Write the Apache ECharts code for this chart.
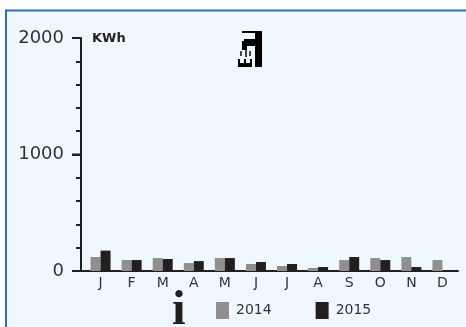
<!DOCTYPE html>
<html><head><meta charset="utf-8">
<style>html,body{margin:0;padding:0;background:#fff;overflow:hidden}#c{width:466px;height:327px}</style>
<script src="https://cdn.jsdelivr.net/npm/echarts@6/dist/echarts.min.js"></script>
</head><body><div id="c"></div>
<script>
const months = ['J','F','M','A','M','J','J','A','S','O','N','D'];
const values2014 = [120,94,111,68,111,60,43,26,94,111,120,94];
const values2015 = [175,94,103,85,111,77,60,34,120,94,34,null];
const yTicks = {min:0,max:2000,interval:1000};
const majorTicks = [0,1000,2000];
const ink = '#231f20', grey = '#8f8f8f', txt = '#333333';
const font = '"DejaVu Sans", Verdana, sans-serif';
const chart = echarts.init(document.getElementById('c'),null,{renderer:'canvas'});
const staticGraphics = [
    {type:'rect',silent:true,z:-1,shape:{x:6,y:10.5,width:470,height:330},
      style:{fill:'#f0f8ff',stroke:'#2f6fb8',lineWidth:2}},
    {type:'rect',shape:{x:80,y:270,width:6,height:2},style:{fill:ink}},
    {type:'text',x:92,y:32,style:{text:'KWh',font:'bold 13px '+font,fill:ink}},
    {type:'text',x:172,y:287,style:{text:'i',font:'bold 49px "Liberation Serif", serif',fill:ink}},
    {type:'group',x:238,y:30,children:[
      {type:'rect',shape:{x:4,y:1,width:20,height:2},style:{fill:'#000'}},
      {type:'rect',shape:{x:17,y:3,width:7,height:34},style:{fill:'#000'}},
      {type:'rect',shape:{x:6,y:9,width:11,height:7},style:{fill:'#000'}},
      {type:'rect',shape:{x:4,y:11,width:5,height:9},style:{fill:'#000'}},
      {type:'rect',shape:{x:2,y:21,width:2,height:5},style:{fill:'#444'}},
      {type:'rect',shape:{x:7,y:20,width:2,height:7},style:{fill:'#444'}},
      {type:'rect',shape:{x:11,y:21,width:2,height:5},style:{fill:'#444'}},
      {type:'rect',shape:{x:0,y:33,width:14,height:4},style:{fill:'#000'}},
      {type:'rect',shape:{x:0,y:29,width:2,height:4},style:{fill:'#000'}},
      {type:'rect',shape:{x:6,y:29,width:2,height:4},style:{fill:'#000'}},
      {type:'rect',shape:{x:12,y:29,width:2,height:4},style:{fill:'#000'}}
    ]}
];
chart.setOption({
  animation:false,
  backgroundColor:'#fff',
  grid:{left:85,top:38,width:373,height:233,containLabel:false},
  legend:{left:216,top:302,padding:0,itemWidth:13,itemHeight:17,itemGap:44,icon:'rect',
    textStyle:{fontFamily:font,fontSize:14,color:txt,padding:[0,0,0,2]},
    data:['2014','2015']},
  xAxis:{type:'category',data:months,
    axisLine:{lineStyle:{color:ink,width:2}},axisTick:{show:false},
    axisLabel:{fontFamily:font,fontSize:14,color:txt,margin:5,interval:0}},
  yAxis:{type:'value',min:yTicks.min,max:yTicks.max,interval:yTicks.interval,offset:4,
    axisLine:{show:true,lineStyle:{color:ink,width:2}},
    axisTick:{show:true,length:9,lineStyle:{color:ink,width:2}},
    minorTick:{show:true,splitNumber:5,length:5,lineStyle:{color:ink,width:2}},
    splitLine:{show:false},
    axisLabel:{fontFamily:font,fontSize:18,color:txt,margin:17,formatter:v=>String(v)}},
  series:[
    {name:'2014',type:'bar',data:values2014,barWidth:10,barGap:0,itemStyle:{color:grey}},
    {name:'2015',type:'bar',data:values2015,barWidth:10,barGap:0,itemStyle:{color:ink}}
  ],
  graphic:staticGraphics
});
const tickMarks = majorTicks.map(v=>{
  const y = chart.convertToPixel({yAxisIndex:0},v);
  return {type:'rect',z:10,shape:{x:72,y:y-1,width:9,height:2},style:{fill:ink}};
});
chart.setOption({graphic:staticGraphics.concat(tickMarks)});
</script></body></html>
